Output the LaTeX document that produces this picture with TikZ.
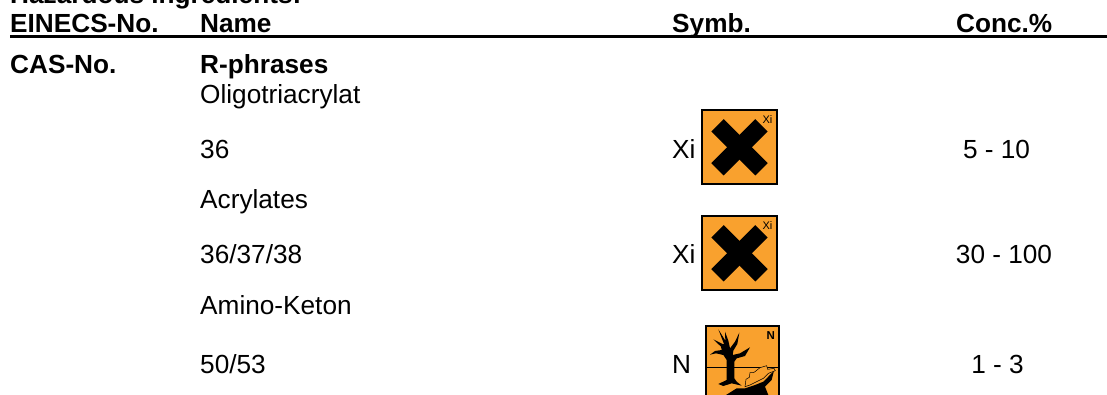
\documentclass[tikz,border=0pt]{standalone}
\usepackage{fontspec}
\setmainfont{Liberation Sans}
\definecolor{hazard}{HTML}{F9A12E}
\tikzset{
  x=1pt,y=-1pt,
  head/.style={anchor=base west,inner sep=0pt,font=\fontsize{26.2}{26.2}\selectfont\bfseries},
  body/.style={anchor=base west,inner sep=0pt,font=\fontsize{26.2}{26.2}\selectfont},
  conc/.style={anchor=base,inner sep=0pt,font=\fontsize{26.2}{26.2}\selectfont},
  tiny/.style={anchor=center,inner sep=0pt,font=\fontsize{11}{11}\selectfont},
  tinyb/.style={anchor=center,inner sep=0pt,font=\fontsize{11.5}{11.5}\selectfont\bfseries},
  plate/.style={draw=black,line width=1.6pt,fill=hazard},
  crossarm/.style={line width=17.5pt,black},
  pic/.style={fill=black,draw=none}
}
\newcommand{\xibox}[2]{%
  \draw[plate] (702,#1) rectangle (777,#1+74);
  \draw[crossarm] (739.5-22,#1+37.3-22) -- (739.5+22,#1+37.3+22);
  \draw[crossarm] (739.5+22,#1+37.3-22) -- (739.5-22,#1+37.3+22);
  \node[tiny] (#2) at (767.5,#1+10) {Xi};
}
\begin{document}
\begin{tikzpicture}
\useasboundingbox (0,0) rectangle (1107,394);
\clip (0,0) rectangle (1107,394);
\node[head] (title) at (10,3) {Hazardous ingredients:};
\node[head] (einecs) at (10,32) {EINECS-No.};
\node[head] (name) at (200,32) {Name};
\node[head] (symb) at (672,32) {Symb.};
\node[head] (concH) at (956,32) {Conc.\%\raisebox{-1.3pt}{\_\_\_}};
\draw[line width=3pt] (10,36) -- (1107,36);
\node[head] (cas) at (10,73) {CAS-No.};
\node[head] (rph) at (200,73) {R-phrases};
\node[body] (n1) at (200,103) {Oligotriacrylat};
\node[body] (r1) at (200,158) {36};
\node[body] (s1) at (672,158) {Xi};
\node[conc] (c1) at (996.5,158) {5 - 10};
\node[body] (n2) at (200,208) {Acrylates};
\node[body] (r2) at (200,263) {36/37/38};
\node[body] (s2) at (672,263) {Xi};
\node[conc] (c2) at (1004,263) {30 - 100};
\node[body] (n3) at (200,314) {Amino-Keton};
\node[body] (r3) at (200,373) {50/53};
\node[body] (s3) at (672,373) {N};
\node[conc] (c3) at (997.5,373) {1 - 3};
\xibox{110}{xia}
\xibox{216}{xib}
% environment pictogram
\draw[plate] (706,326) rectangle (779,410);
\draw[line width=0.9pt] (706,367.7) -- (779,367.7);
\node[tinyb] (nsym) at (770.7,335.7) {N};
\begin{scope}[shift={(700,320)},x=0.3333pt,y=-0.3333pt]
% tree
\fill[pic] (80,180) -- (80,120) -- (70,105) -- (48,100) -- (30,104) -- (45,93) -- (65,90) -- (63,80) -- (40,58) -- (68,72) -- (72,72) -- (55,28) -- (76,62) -- (75,35) -- (85,62) -- (90,85) -- (105,65) -- (118,38) -- (112,72) -- (100,92) -- (98,105) -- (120,100) -- (150,82) -- (135,108) -- (110,115) -- (103,125) -- (103,175) -- (110,185) -- (125,197) -- (95,190) -- (70,198) -- (55,192) -- cycle;
% shadow
\fill[pic] (78,225) -- (110,205) -- (135,205) -- (165,195) -- (190,185) -- (205,170) -- (222,152) -- (215,180) -- (195,200) -- (205,225) -- cycle;
% fish
\filldraw[fill=hazard,draw=black,line width=0.5pt] (138,178) -- (148,172) -- (150,158) -- (160,158) -- (165,155) -- (180,143) -- (200,137) -- (203,148) -- (222,145) -- (226,152) -- (205,160) -- (190,175) -- (170,185) -- (150,195) -- (135,200) -- cycle;
\end{scope}
\end{tikzpicture}
\end{document}
